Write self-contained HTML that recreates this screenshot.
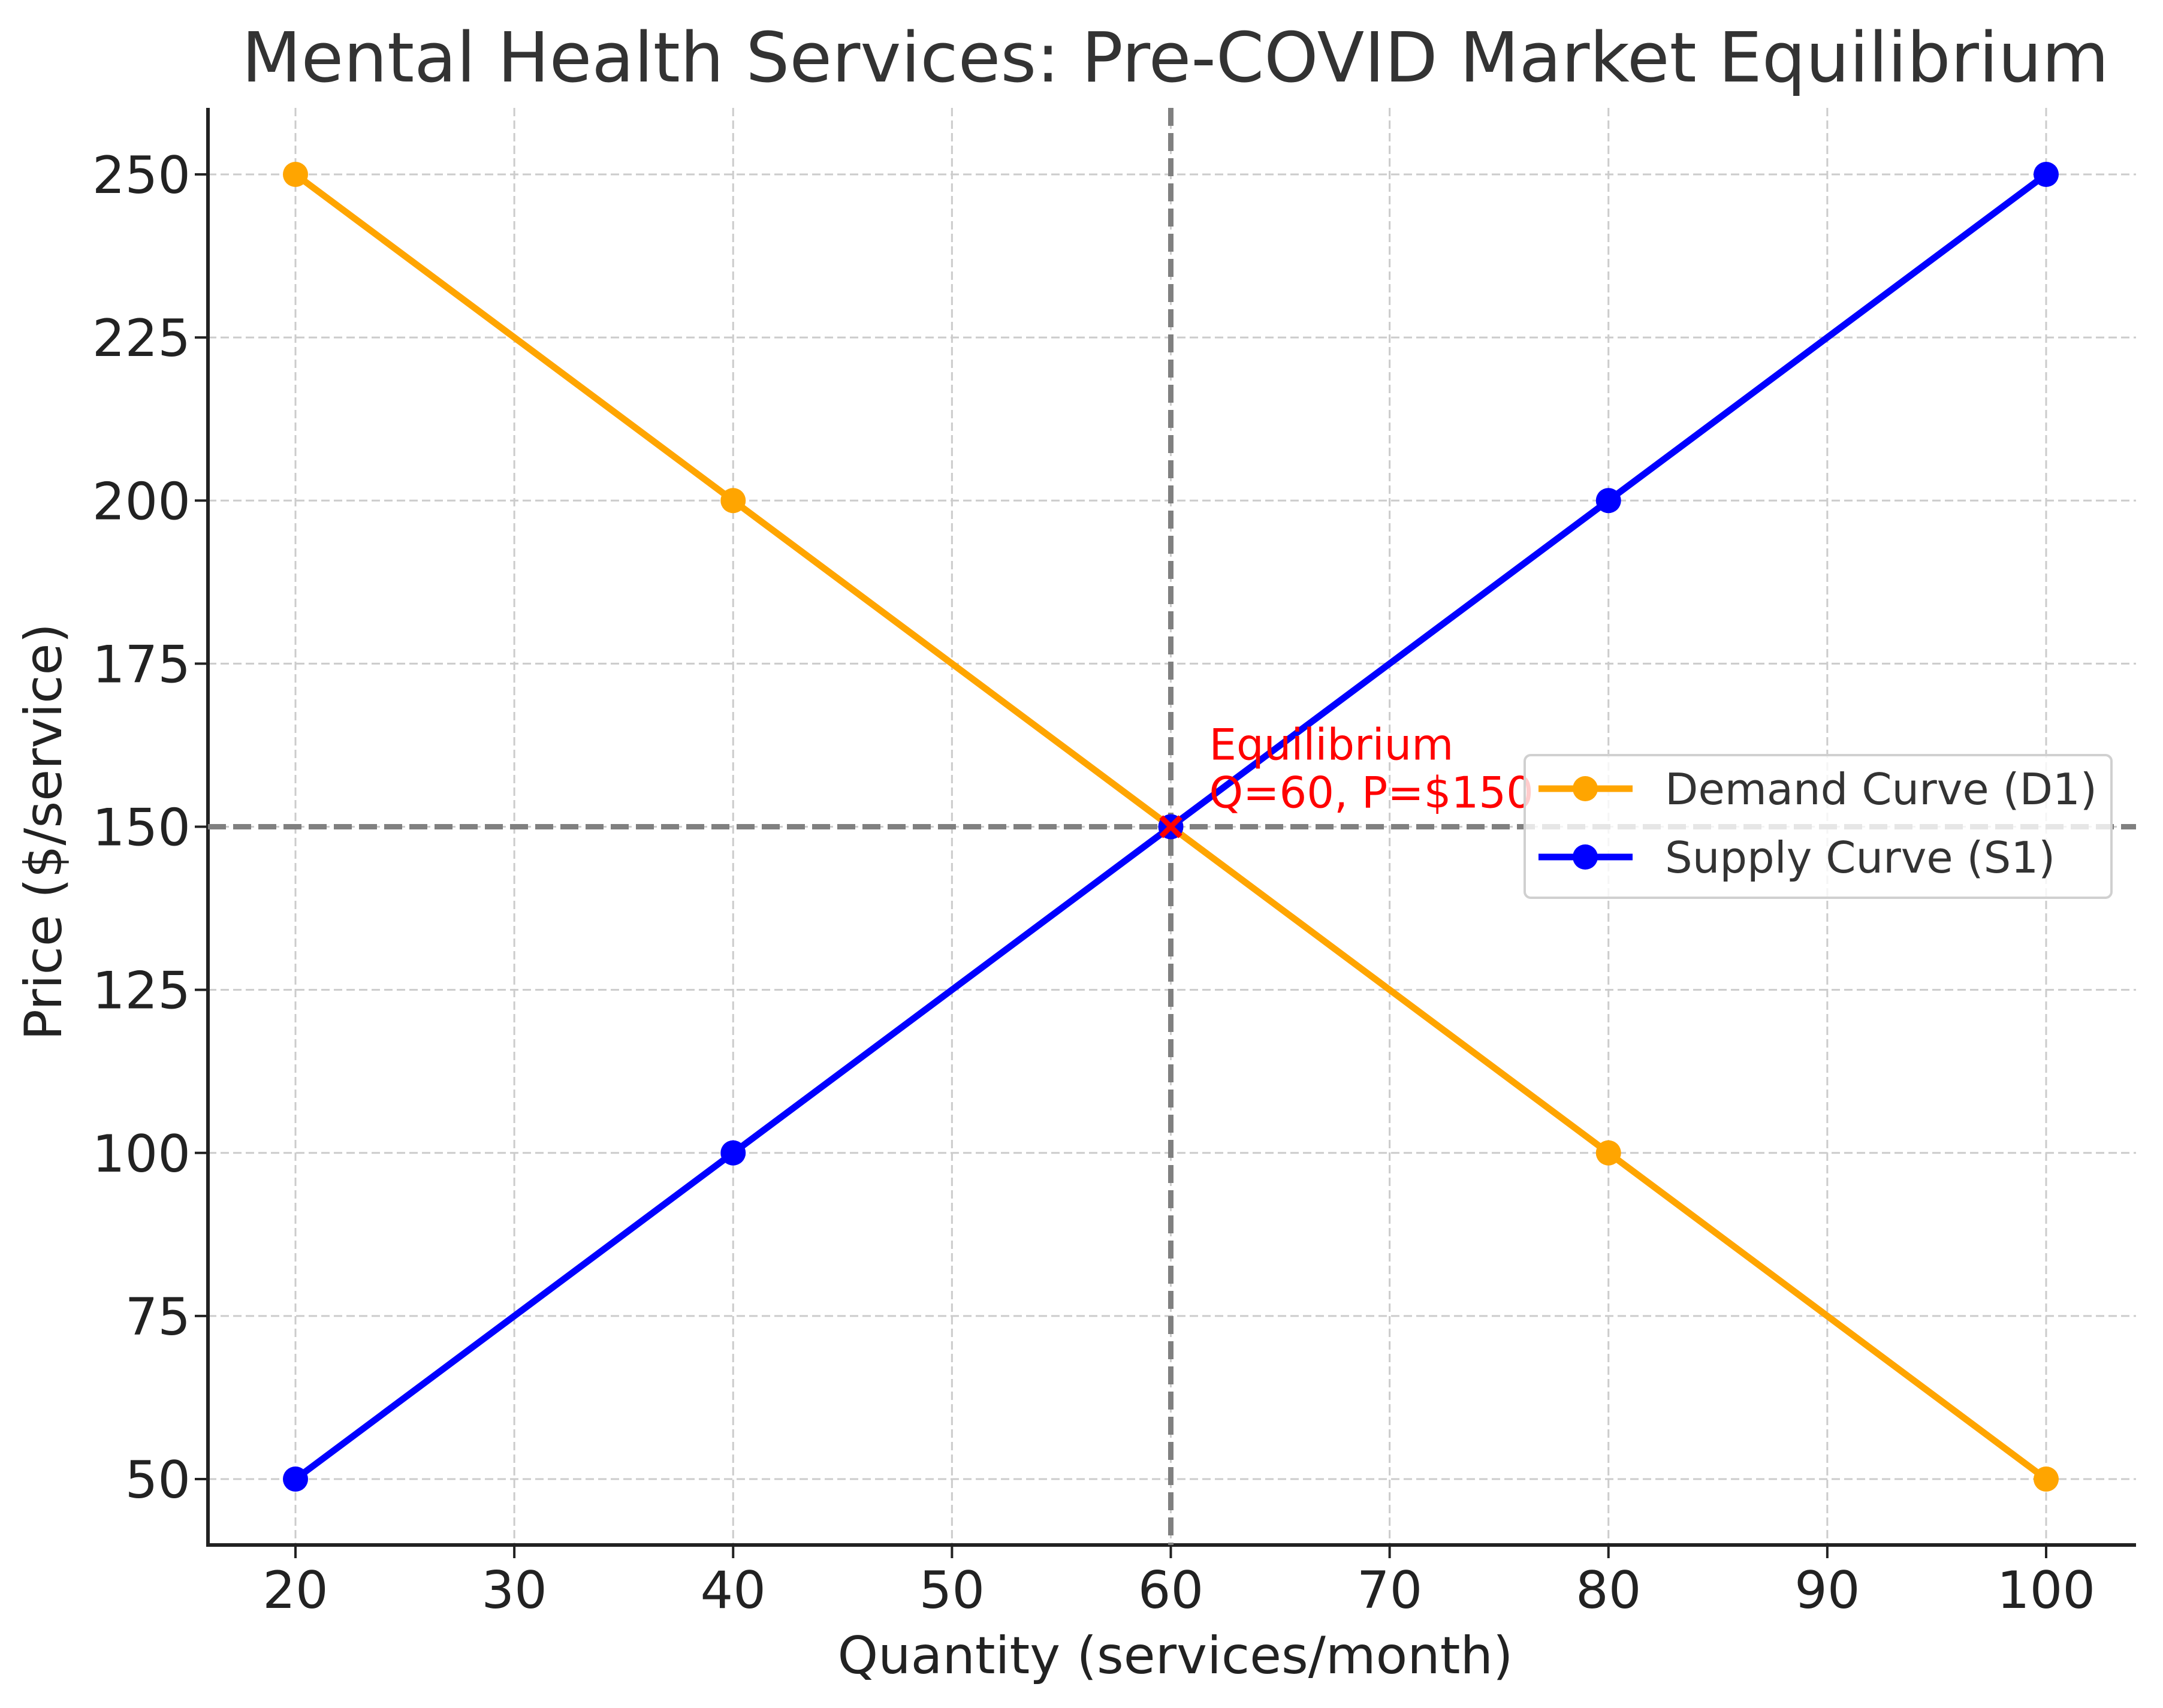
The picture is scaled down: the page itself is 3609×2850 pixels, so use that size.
<!DOCTYPE html>
<html><head><meta charset="utf-8"><style>
html,body{margin:0;padding:0;background:#fff}
svg{display:block;font-family:"DejaVu Sans","Liberation Sans",sans-serif}
</style></head><body>
<svg id="chart" width="3609" height="2850" viewBox="0 0 3609 2850">
<text x="1961" y="136" font-size="115" fill="#333" text-anchor="middle">Mental Health Services: Pre-COVID Market Equilibrium</text>
<g id="grid"></g>
<g id="axes"></g>
<g id="series"></g>
<text x="1961" y="2792" font-size="86" fill="#222" text-anchor="middle">Quantity (services/month)</text>
<text transform="translate(102,1388) rotate(-90)" font-size="86" fill="#222" text-anchor="middle">Price ($/service)</text>
<g>
<rect x="2544" y="1260" width="979" height="238" rx="10" fill="#fff" fill-opacity="0.8" stroke="#d0d0d0" stroke-width="4"/>
<line x1="2567" y1="1316" x2="2724" y2="1316" stroke="orange" stroke-width="11"/>
<circle cx="2645" cy="1316" r="21" fill="orange"/>
<text x="2778" y="1342" font-size="72" fill="#333">Demand Curve (D1)</text>
<line x1="2567" y1="1430" x2="2724" y2="1430" stroke="blue" stroke-width="11"/>
<circle cx="2645" cy="1430" r="21" fill="blue"/>
<text x="2778" y="1456" font-size="72" fill="#333">Supply Curve (S1)</text>
</g>
</svg>
<script>
const xTicks=[20,30,40,50,60,70,80,90,100];
const yTicks=[50,75,100,125,150,175,200,225,250];
const quantities=[20,40,60,80,100];
const demandPrices=[250,200,150,100,50];
const supplyPrices=[50,100,150,200,250];
const eqQ=60, eqP=150;
const NS="http://www.w3.org/2000/svg";
const L=347,R=3564,T=180,B=2578;
const sx=v=>493+(v-20)*(3414-493)/80;
const sy=v=>2468-(v-50)*(2468-291)/200;
function mk(tag,attrs,parent,txt){const e=document.createElementNS(NS,tag);for(const k in attrs)e.setAttribute(k,attrs[k]);if(txt!==undefined)e.textContent=txt;parent.appendChild(e);return e;}
const grid=document.getElementById('grid'),axes=document.getElementById('axes'),series=document.getElementById('series');
xTicks.forEach(t=>{
 const g=mk('line',{x1:sx(t),x2:sx(t),y1:T,y2:B,stroke:'#ccc','stroke-width':3,'stroke-dasharray':'14 7'},grid);
 
 
 const tk=mk('line',{x1:sx(t),x2:sx(t),y1:B,y2:B+22,stroke:'#222','stroke-width':4},axes);
 
 
 const lb=mk('text',{x:sx(t),y:2683,'font-size':86,fill:'#222','text-anchor':'middle'},axes,t);
 
 
});
yTicks.forEach(t=>{
 const g=mk('line',{x1:L,x2:R,y1:sy(t),y2:sy(t),stroke:'#ccc','stroke-width':3,'stroke-dasharray':'14 7'},grid);
 
 
 const tk=mk('line',{x1:L-22,x2:L,y1:sy(t),y2:sy(t),stroke:'#222','stroke-width':4},axes);
 
 
 const lb=mk('text',{x:318,y:sy(t)+31,'font-size':86,fill:'#222','text-anchor':'end'},axes,t);
 
 
});
const ya=mk('line',{x1:L,x2:L,y1:T,y2:B+3,stroke:'#222','stroke-width':6},axes);


const xa=mk('line',{x1:L-3,x2:R,y1:B,y2:B,stroke:'#222','stroke-width':6},axes);


const vl=mk('line',{x1:sx(eqQ),x2:sx(eqQ),y1:T,y2:B,stroke:'#808080','stroke-width':9,'stroke-dasharray':'30 12'},series);


const hl=mk('line',{x1:L,x2:R,y1:sy(eqP),y2:sy(eqP),stroke:'#808080','stroke-width':9,'stroke-dasharray':'30 12'},series);


function drawSeries(vals,color,name){
 const p=mk('polyline',{points:quantities.map((q,i)=>sx(q)+','+sy(vals[i])).join(' '),fill:'none',stroke:color,'stroke-width':11},series);
 
 
 quantities.forEach((q,i)=>{
  const c=mk('circle',{cx:sx(q),cy:sy(vals[i]),r:21,fill:color},series);
  
  
 });
}
drawSeries(demandPrices,'orange','demand-curve');
drawSeries(supplyPrices,'blue','supply-curve');
const ex=sx(eqQ),ey=sy(eqP);
const m=mk('path',{d:`M${ex-16},${ey-16}L${ex+16},${ey+16}M${ex-16},${ey+16}L${ex+16},${ey-16}`,stroke:'red','stroke-width':9},series);


const a1=mk('text',{x:ex+64,y:ey-112,'font-size':72,fill:'red'},series,'Equilibrium');


const a2=mk('text',{x:ex+64,y:ey-32,'font-size':72,fill:'red'},series,'Q='+eqQ+', P=$'+eqP);


</script>
</body></html>
